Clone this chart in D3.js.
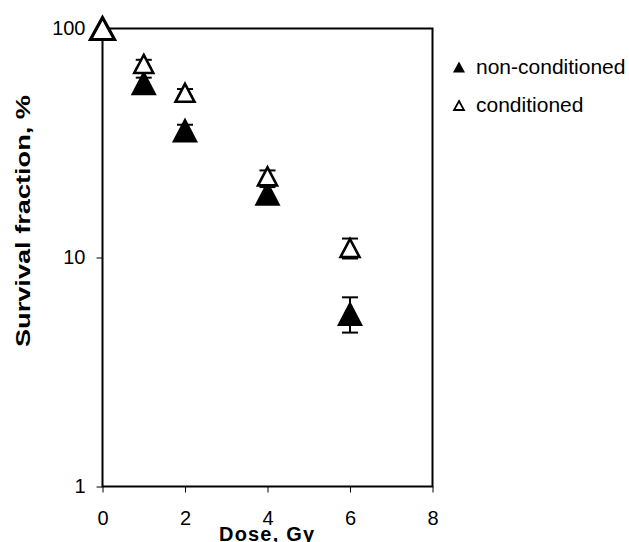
<!DOCTYPE html>
<html><head><meta charset="utf-8">
<script src="https://cdn.jsdelivr.net/npm/d3@7"></script>
<style>
html,body{margin:0;padding:0;background:#fff;}
svg{display:block;}
text{font-family:"Liberation Sans",Arial,sans-serif;}
</style></head>
<body>
<script>
const doses = [0, 1, 2, 4, 6];
const nonConditioned = [100, 58, 36, 19.1, 5.7];
const nonConditionedErr = [0, 3, 2, 1.2, 1.0];
const conditioned = [100, 70, 52.4, 22.6, 11];
const conditionedErr = [0, 3, 2, 1.4, 1.1];
const xTicks = [0, 2, 4, 6, 8];
const yTicks = [1, 10, 100];
const seriesNames = ["non-conditioned", "conditioned"];

const W = 629, H = 542;
const svg = d3.select("body").append("svg").attr("width", W).attr("height", H);

const x = d3.scaleLinear().domain([0, 8]).range([102.5, 432.5]);
const y = d3.scaleLog().domain([1, 100]).range([486.5, 28.5]);

// axes
const gy = svg.append("g").attr("transform", `translate(${x(0)},0)`)
  .call(d3.axisLeft(y).tickValues(yTicks).tickFormat(d3.format("d")).tickSize(6).tickPadding(11));
gy.select(".domain").remove();
gy.selectAll("text").attr("font-size", 20).attr("font-family", "Liberation Sans, Arial, sans-serif").attr("fill", "#000");
gy.selectAll("line").attr("stroke", "#000");

const gx = svg.append("g").attr("transform", `translate(0,${y(1)})`)
  .call(d3.axisBottom(x).tickValues(xTicks).tickSize(6));
gx.select(".domain").remove();
gx.selectAll("text").attr("font-size", 20).attr("y", 24).attr("font-family", "Liberation Sans, Arial, sans-serif").attr("fill", "#000");
gx.selectAll("line").attr("stroke", "#000");

// frame
svg.append("rect")
  .attr("x", x(0)).attr("y", y(100))
  .attr("width", x(8) - x(0)).attr("height", y(1) - y(100))
  .attr("fill", "none").attr("stroke", "#000").attr("stroke-width", 2);

// axis titles
svg.append("text")
  .attr("transform", `translate(30,221) rotate(-90)`)
  .attr("text-anchor", "middle").attr("font-weight", "bold").attr("font-size", 20)
  .attr("textLength", 252).attr("lengthAdjust", "spacingAndGlyphs")
  .text("Survival fraction, %");
svg.append("text")
  .attr("x", 266.5).attr("y", 541)
  .attr("text-anchor", "middle").attr("font-weight", "bold").attr("font-size", 20)
  .attr("textLength", 95).attr("lengthAdjust", "spacing")
  .text("Dose, Gy");

function tri(cx, cy, w, h) {
  return `M${cx},${cy - h / 2}L${cx + w / 2},${cy + h / 2}L${cx - w / 2},${cy + h / 2}Z`;
}

function errBars(vals, errs) {
  const g = svg.append("g").attr("stroke", "#000").attr("stroke-width", 2);
  doses.forEach((d, i) => {
    if (!errs[i]) return;
    const cx = x(d), y1 = y(vals[i] + errs[i]), y0 = y(vals[i] - errs[i]);
    g.append("line").attr("x1", cx).attr("x2", cx).attr("y1", y1).attr("y2", y0);
    g.append("line").attr("x1", cx - 8).attr("x2", cx + 8).attr("y1", y1).attr("y2", y1);
    g.append("line").attr("x1", cx - 8).attr("x2", cx + 8).attr("y1", y0).attr("y2", y0);
  });
}

// non-conditioned (filled)
errBars(nonConditioned, nonConditionedErr);
svg.append("g").selectAll("path").data(doses).join("path")
  .attr("d", (d, i) => tri(x(d), y(nonConditioned[i]), 26, 25))
  .attr("fill", "#000");

// conditioned (open)
errBars(conditioned, conditionedErr);
svg.append("g").selectAll("path").data(doses).join("path")
  .attr("d", (d, i) => i === 0 ? tri(x(d), y(conditioned[i]), 24, 22) : tri(x(d), y(conditioned[i]), 19, 18))
  .attr("fill", "#fff").attr("stroke", "#000")
  .attr("stroke-width", (d, i) => i === 0 ? 3.2 : 2.6)
  .attr("stroke-linejoin", "miter");

// legend
const lg = svg.append("g");
lg.append("path").attr("d", tri(459, 67, 12, 11)).attr("fill", "#000");
lg.append("path").attr("d", tri(459, 105.5, 10, 9)).attr("fill", "#fff").attr("stroke", "#000").attr("stroke-width", 1.8);
lg.append("text").attr("x", 476).attr("y", 74).attr("font-size", 21).text(seriesNames[0]);
lg.append("text").attr("x", 476).attr("y", 112).attr("font-size", 21).text(seriesNames[1]);
</script>
</body></html>
